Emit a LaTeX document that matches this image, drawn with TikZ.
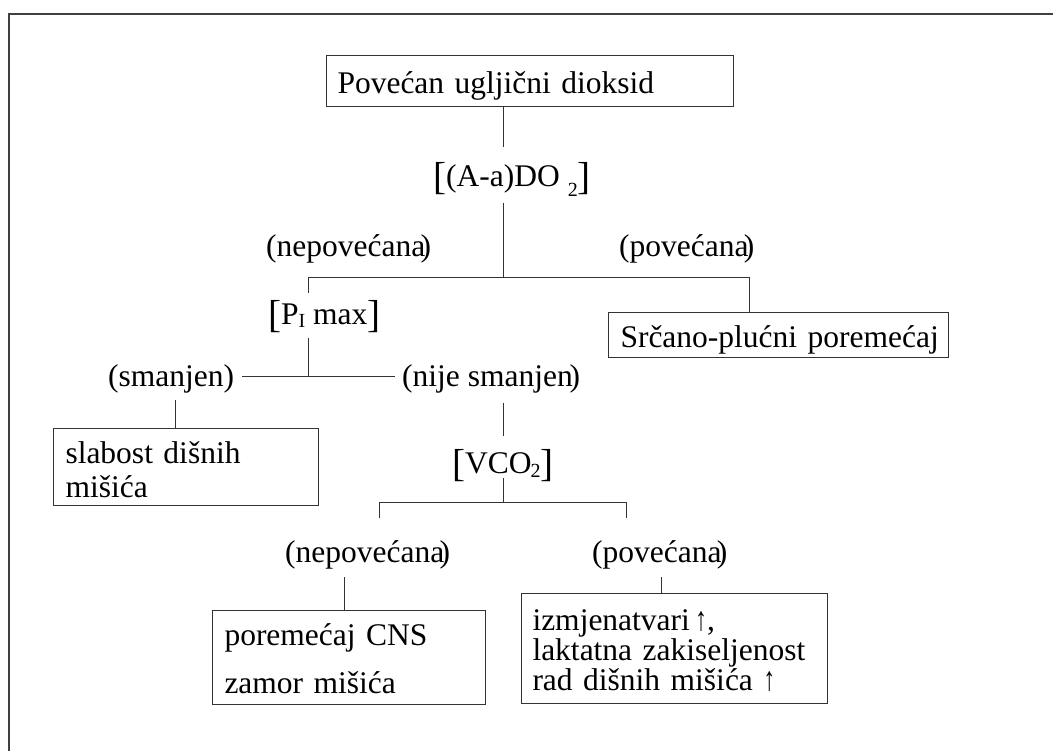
\documentclass[tikz,border=0pt]{standalone}
\usepackage{fontspec}
\usepackage{graphicx}
\setmainfont{Liberation Serif}
\newcommand\myfs{\fontsize{31.5}{34}\selectfont}
\newcommand\mybrk[1]{\raisebox{-3pt}{\fontsize{39}{39}\selectfont #1}}
\newcommand\lsub[2][-10pt]{\raisebox{#1}{\fontsize{20}{20}\selectfont #2}}
\newcommand\uparr{\smash{\resizebox{12pt}{19pt}{↑}}}
\tikzset{
  lbl/.style={inner sep=0pt, anchor=base west, font=\myfs},
  box/.style={draw=black!80, line width=1pt, anchor=north west, inner ysep=0pt, align=left, font=\myfs},
  conn/.style={draw=black!80, line width=1pt},
  frame/.style={draw=black!75, line width=1.6pt}
}
\begin{document}
\begin{tikzpicture}[x=1pt,y=-1pt]
\useasboundingbox (0,0) rectangle (1053,751);
\draw[frame] (9,751) -- (9,14) -- (1053,14);

% boxes
\node[box, inner xsep=11pt, text width=385pt, text height=38pt, text depth=13pt] (b1) at (326,55) {\mbox{Povećan ugljični dioksid}};
\node[box, inner xsep=12pt, text width=316pt, text height=35pt, text depth=10pt] (b2) at (608,312) {\mbox{Srčano-plućni poremećaj}};
\node[box, inner xsep=12pt, text width=241pt, text height=35pt, text depth=42pt] (b3) at (53,428) {slabost dišnih\\ mišića};
\node[box, inner xsep=12pt, text width=249pt, text height=35pt, text depth=59pt] (b4) at (212,610) {poremećaj CNS\\[14pt] zamor mišića};
\node[box, inner xsep=11pt, text width=284pt, text height=37pt, text depth=73pt] (b5) at (521,593) {izmjenatvari\,\uparr,\\[-4pt] \mbox{laktatna zakiseljenost}\\[-4pt] rad dišnih mišića \uparr};

% labels
\node[lbl] (aado) at (433,187) {\mybrk{[}(A-a)DO\ \lsub{2}\mybrk{]}};
\node[lbl] (nep1) at (266,257) {(nepovećana\kern-0.15em)};
\node[lbl] (pov1) at (619,257) {(povećana\kern-0.15em)};
\node[lbl] (pmax) at (268,325) {\mybrk{[}P\lsub[-3pt]{I} max\mybrk{]}};
\node[lbl] (sm) at (108,387) {(smanjen)};
\node[lbl] (nsm) at (402,387) {(nije smanjen\kern-0.1em)};
\node[lbl] (vco) at (452,473) {\mybrk{[}VCO\kern-1pt\lsub[-4pt]{2}\mybrk{]}};
\node[lbl] (nep2) at (285,562) {(nepovećana\kern-0.15em)};
\node[lbl] (pov2) at (592,562) {(povećana\kern-0.15em)};

% connector points
\coordinate (aado-in) at (503,147);
\coordinate (aado-out) at (503,203);
\coordinate (j1) at (503,278);
\coordinate (j1l) at (308,278);
\coordinate (j1r) at (749,278);
\coordinate (pmax-in) at (308,293);
\coordinate (pmax-out) at (308,338);
\coordinate (j2) at (308,377);
\coordinate (sm-in) at (242,377);
\coordinate (nsm-in) at (395,377);
\coordinate (sm-out) at (175,400);
\coordinate (nsm-out) at (503,403);
\coordinate (vco-in) at (503,436);
\coordinate (vco-out) at (503,478);
\coordinate (j3) at (503,502);
\coordinate (j3l) at (379,502);
\coordinate (j3r) at (626,502);
\coordinate (nep2-in) at (379,518);
\coordinate (pov2-in) at (626,518);
\coordinate (nep2-out) at (344,577);
\coordinate (pov2-out) at (661,577);

% connectors
\draw[conn] (b1.south -| aado-in) -- (aado-in);
\draw[conn] (aado-out) -- (j1);
\draw[conn] (pmax-in) -- (j1l) -- (j1r) -- (b2.north -| j1r);
\draw[conn] (pmax-out) -- (j2);
\draw[conn] (sm-in) -- (nsm-in);
\draw[conn] (sm-out) -- (b3.north -| sm-out);
\draw[conn] (nsm-out) -- (vco-in);
\draw[conn] (vco-out) -- (j3);
\draw[conn] (nep2-in) -- (j3l) -- (j3r) -- (pov2-in);
\draw[conn] (nep2-out) -- (b4.north -| nep2-out);
\draw[conn] (pov2-out) -- (b5.north -| pov2-out);
\end{tikzpicture}
\end{document}
